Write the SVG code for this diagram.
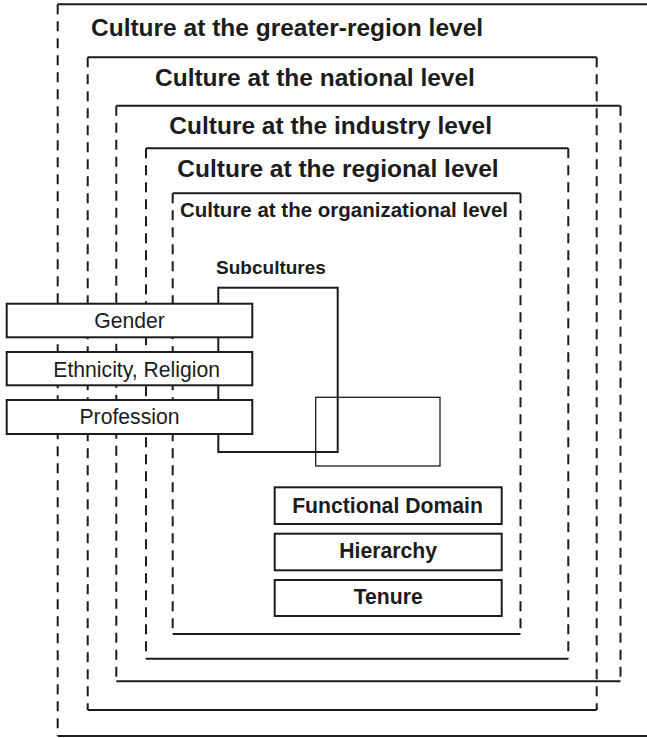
<svg xmlns="http://www.w3.org/2000/svg" width="647" height="738" viewBox="0 0 647 738">
<style>
.solid{fill:none;stroke:#1c1c1c;stroke-width:2}
.dash{fill:none;stroke:#1c1c1c;stroke-width:2;stroke-dasharray:10 7}
.box{fill:#fff;stroke:#1c1c1c;stroke-width:2}
.thin{fill:none;stroke:#1c1c1c;stroke-width:1.3}
.h{font-family:"Liberation Sans",Arial,sans-serif;font-weight:bold;font-size:24.5px;fill:#1c1c1c}
.h2{font-family:"Liberation Sans",Arial,sans-serif;font-weight:bold;font-size:20.5px;fill:#1c1c1c}
.b{font-family:"Liberation Sans",Arial,sans-serif;font-weight:bold;font-size:21.2px;fill:#1c1c1c;text-anchor:middle}
.r{font-family:"Liberation Sans",Arial,sans-serif;font-size:21.2px;fill:#1c1c1c;text-anchor:middle}
</style>
<rect width="647" height="738" fill="#fff"/>
<g id="greater-region">
<path class="solid" d="M57.7,4.3H650M57.7,736H650"/>
<path class="dash" d="M57.7,4.3V736"/>
<text class="h" x="91" y="35.7">Culture at the greater-region level</text>
</g>
<g id="national">
<path class="solid" d="M87.7,57.3H596.7M87.7,710H596.7"/>
<path class="dash" d="M87.7,57.3V710M596.7,57.3V710"/>
<text class="h" x="155" y="86">Culture at the national level</text>
</g>
<g id="industry">
<path class="solid" d="M116.3,105.8H620.5M116.3,681.3H620.5"/>
<path class="dash" d="M116.3,105.8V681.3M620.5,105.8V681.3"/>
<text class="h" x="169.3" y="134">Culture at the industry level</text>
</g>
<g id="regional">
<path class="solid" d="M146,148.3H568.3M146,658.7H568.3"/>
<path class="dash" d="M146,148.3V658.7M568.3,148.3V658.7"/>
<text class="h" x="177.3" y="177.3">Culture at the regional level</text>
</g>
<g id="organizational">
<path class="solid" d="M172.7,193.3H520.5M172.7,634H520.5"/>
<path class="dash" d="M172.7,193.3V634M520.5,193.3V634"/>
<text class="h2" x="180" y="216.7">Culture at the organizational level</text>
</g>
<g id="subcultures">
<text class="b" x="271" y="274" style="font-size:19px">Subcultures</text>
<rect class="solid" x="218.3" y="287.7" width="119.4" height="164.3"/>
</g>
<g id="overlap-box">
<rect class="thin" x="315.7" y="397.3" width="124.3" height="68.7"/>
</g>
<g id="gender">
<rect class="box" x="6.7" y="303.7" width="245.6" height="33.6"/>
<text class="r" x="129.5" y="328.3">Gender</text>
</g>
<g id="ethnicity-religion">
<rect class="box" x="6.7" y="352" width="245.6" height="33.3"/>
<text class="r" x="136.7" y="376.7">Ethnicity, Religion</text>
</g>
<g id="profession">
<rect class="box" x="6.7" y="400" width="245.6" height="34"/>
<text class="r" x="129.5" y="424">Profession</text>
</g>
<g id="functional-domain">
<rect class="box" x="274.7" y="487.3" width="227" height="36.7"/>
<text class="b" x="387.5" y="512.7">Functional Domain</text>
</g>
<g id="hierarchy">
<rect class="box" x="274.7" y="533.7" width="227" height="36.6"/>
<text class="b" x="388.2" y="558.3">Hierarchy</text>
</g>
<g id="tenure">
<rect class="box" x="274.7" y="580" width="227" height="36"/>
<text class="b" x="388.2" y="604.3">Tenure</text>
</g>
<g id="connectors"/>
</svg>
